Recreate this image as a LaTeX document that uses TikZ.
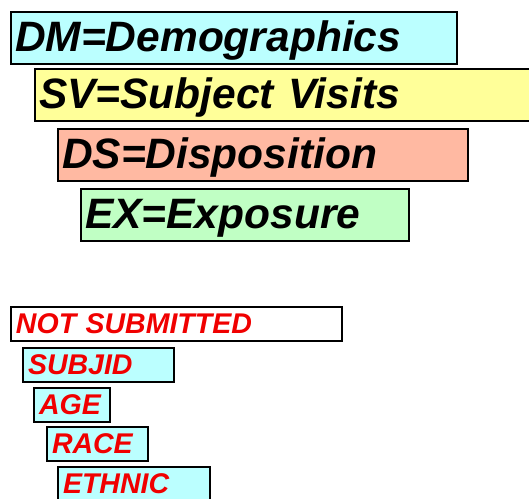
\documentclass[tikz,border=0pt]{standalone}
\usepackage{fontspec}
\setmainfont{Liberation Sans}
\usetikzlibrary{positioning}
\definecolor{dmcyan}{HTML}{BBFFFF}
\definecolor{svyellow}{HTML}{FFFF99}
\definecolor{dssalmon}{HTML}{FFB9A2}
\definecolor{exgreen}{HTML}{C0FFC4}
\definecolor{varred}{HTML}{F00000}

\begin{document}
\begin{tikzpicture}[x=1pt,y=-1pt]
	\tikzstyle{dombox} = [anchor=north west, draw=black, line width=2pt, inner xsep=4pt, inner ysep=0pt, text height=39pt, text depth=13pt, align=left, font=\fontsize{42.5}{42.5}\selectfont\bfseries\itshape]
	\tikzstyle{varbox} = [anchor=north west, draw=black, line width=2pt, inner xsep=5pt, inner ysep=0pt, text height=26pt, text depth=8pt, align=left, text=varred, fill=dmcyan, font=\fontsize{28.5}{28.5}\selectfont\bfseries\itshape]
	
	\useasboundingbox (0,0) rectangle (529,498);
	
	%domains
	\node (dm) at (10,11) [dombox, fill=dmcyan, text width=438pt]{DM=Demographics};
	\node (sv) at (34,68) [dombox, fill=svyellow, text width=503pt]{SV=Subject Visits};
	\node (ds) at (57,128) [dombox, fill=dssalmon, text width=402pt]{DS=Disposition};
	\node (ex) at (80,188) [dombox, fill=exgreen, text width=320pt]{EX=Exposure};
	
	%not submitted
	\node (notsub) at (10,306) [varbox, fill=white, text width=321pt]{NOT SUBMITTED};
	\node (subjid) at (22,347) [varbox, text width=141pt]{SUBJID};
	\node (age) at (33,387) [varbox, text width=66pt]{AGE};
	\node (race) at (46,426) [varbox, text width=91pt]{RACE};
	\node (ethnic) at (57,466) [varbox, text width=142pt]{ETHNIC};
	
\end{tikzpicture}
\end{document}
